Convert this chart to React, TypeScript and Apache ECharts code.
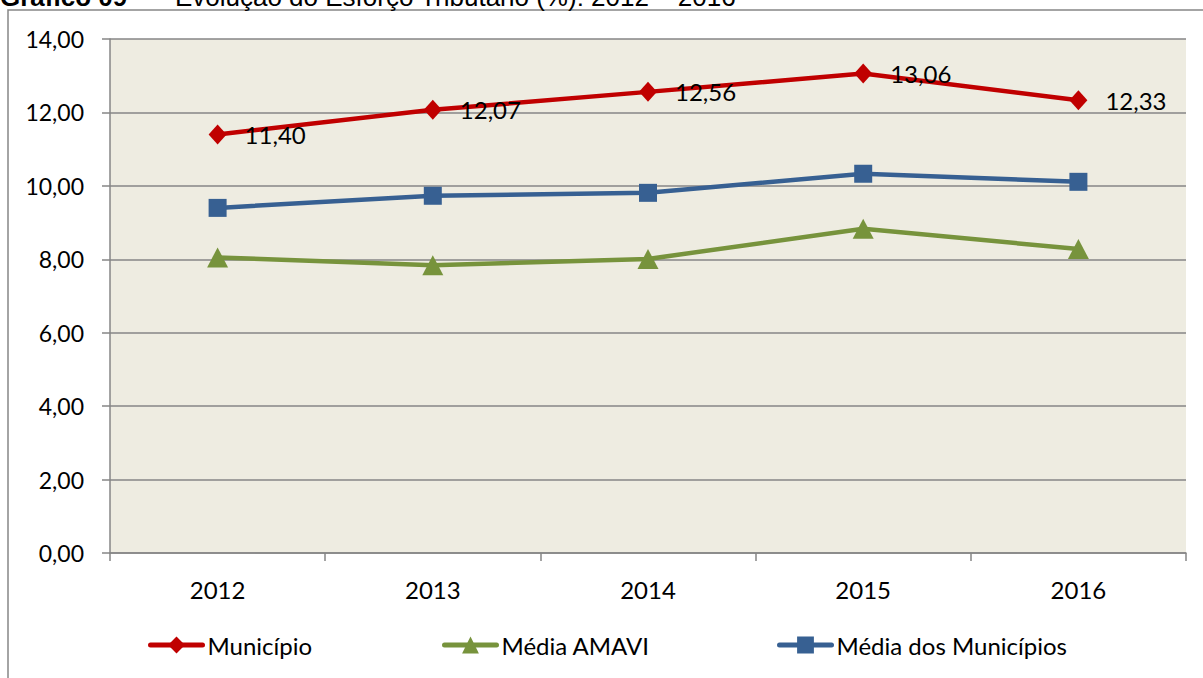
import React, { useEffect, useRef } from "react";
import * as echarts from "echarts";

const categories = ["2012", "2013", "2014", "2015", "2016"];
const municipio = [11.4, 12.07, 12.56, 13.06, 12.33];
const mediaAmavi = [8.05, 7.84, 8.01, 8.83, 8.28];
const mediaMunicipios = [9.4, 9.73, 9.81, 10.33, 10.11];
const seriesNames = ["Município", "Média AMAVI", "Média dos Municípios"];

const FONT = "Lato";
const fmt = (v: number) => v.toFixed(2).replace(".", ",");

export default function App() {
  const ref = useRef<HTMLDivElement>(null);
  useEffect(() => {
    if (!ref.current) return;
    const chart = echarts.init(ref.current, undefined, { renderer: "svg" });
    const legendBase = {
      top: 628,
      itemWidth: 52,
      itemHeight: 21,
      itemGap: 0,
      itemTextGap: 8,
      lineStyle: { width: 5, cap: "round" },
      textStyle: { fontSize: 24, fontFamily: FONT, color: "#000" },
    };
    chart.setOption({
      animation: false,
      backgroundColor: "#fff",
      graphic: [
        {
          type: "rect",
          shape: { x: 8, y: 10, width: 1210, height: 690 },
          style: { fill: "#fff", stroke: "#868686", lineWidth: 1.5 },
          z: -10,
          silent: true,
        },
        {
          type: "text",
          x: 0,
          y: 10,
          style: {
            text: "Gráfico 09",
            font: "bold 26px 'Liberation Sans', Arial, sans-serif",
            fill: "#000",
            verticalAlign: "bottom",
          },
        },
        {
          type: "text",
          x: 146,
          y: 10,
          style: {
            text: "–  Evolução do Esforço Tributário (%): 2012 – 2016",
            font: "26px 'Liberation Sans', Arial, sans-serif",
            fill: "#000",
            verticalAlign: "bottom",
          },
        },
      ],
      grid: {
        left: 110,
        right: 17,
        top: 39,
        bottom: 125,
        show: true,
        backgroundColor: "#EEECE1",
        borderWidth: 0,
      },
      legend: [
        { ...legendBase, left: 143, data: [seriesNames[0]] },
        { ...legendBase, left: 437, data: [seriesNames[1]] },
        { ...legendBase, left: 772, data: [seriesNames[2]] },
      ],
      xAxis: {
        type: "category",
        data: categories,
        boundaryGap: true,
        axisLine: { show: true, lineStyle: { color: "#868686", width: 1.5 } },
        axisTick: { show: true, length: 8, lineStyle: { color: "#868686", width: 1.5 } },
        axisLabel: { margin: 24, fontSize: 24, fontFamily: FONT, color: "#000" },
        splitLine: { show: false },
      },
      yAxis: {
        type: "value",
        min: 0,
        max: 14,
        interval: 2,
        axisLine: { show: true, lineStyle: { color: "#868686", width: 1.5 } },
        axisTick: { show: true, length: 8, lineStyle: { color: "#868686", width: 1.5 } },
        axisLabel: {
          margin: 26,
          fontSize: 23,
          fontFamily: FONT,
          color: "#000",
          formatter: (v: number) => fmt(v),
        },
        splitLine: { show: true, lineStyle: { color: "#868686", width: 1.5 } },
      },
      series: [
        {
          name: seriesNames[0],
          type: "line",
          data: municipio,
          symbol: "diamond",
          symbolSize: [18, 20],
          lineStyle: { color: "#C00000", width: 4.5 },
          itemStyle: { color: "#C00000" },
          label: {
            show: true,
            position: "right",
            distance: 18,
            offset: [0, 0],
            fontSize: 24,
            fontFamily: FONT,
            color: "#000",
            formatter: (p: any) => fmt(p.value),
          },
          z: 4,
        },
        {
          name: seriesNames[1],
          type: "line",
          data: mediaAmavi,
          symbol: "triangle",
          symbolSize: [21, 20],
          lineStyle: { color: "#77933C", width: 4.5 },
          itemStyle: { color: "#77933C" },
          z: 2,
        },
        {
          name: seriesNames[2],
          type: "line",
          data: mediaMunicipios,
          symbol: "rect",
          symbolSize: 18,
          lineStyle: { color: "#376092", width: 4.5 },
          itemStyle: { color: "#376092" },
          z: 3,
        },
      ],
    });
    return () => chart.dispose();
  }, []);
  return (
    <div
      ref={ref}
      style={{ position: "fixed", left: 0, top: 0, width: 1203, height: 678 }}
    />
  );
}
